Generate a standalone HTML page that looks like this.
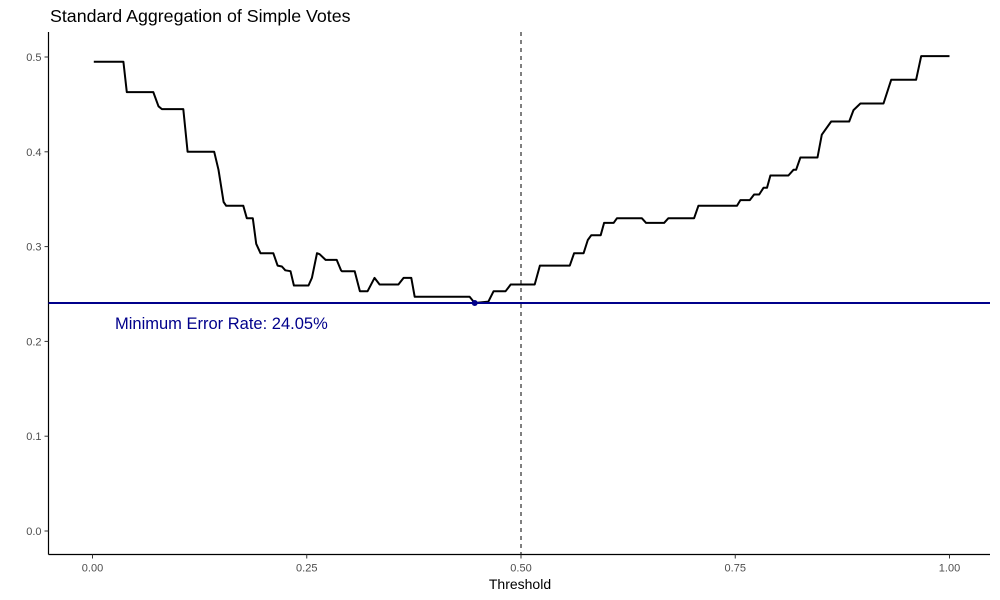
<!DOCTYPE html>
<html><head><meta charset="utf-8"><style>
html,body{margin:0;padding:0;background:#fff;}
svg{display:block;font-family:"Liberation Sans",Arial,sans-serif;}
</style></head><body>
<svg id="chart" width="1000" height="600" viewBox="0 0 1000 600" xmlns="http://www.w3.org/2000/svg">
<text x="50" y="22" font-size="17.8" fill="#000">Standard Aggregation of Simple Votes</text>
<g id="axes"></g>
<g id="marks"></g>
<text x="520" y="589" font-size="14" text-anchor="middle" fill="#000">Threshold</text>
</svg>
<script>
const thresholds = [0.0015,0.036,0.040,0.071,0.077,0.081,0.106,0.111,0.142,0.147,0.153,0.156,0.176,0.180,0.187,0.191,0.196,0.211,0.216,0.221,0.225,0.231,0.235,0.252,0.256,0.262,0.265,0.272,0.285,0.290,0.291,0.306,0.312,0.321,0.329,0.335,0.357,0.363,0.372,0.376,0.440,0.446,0.462,0.468,0.482,0.488,0.516,0.522,0.557,0.562,0.573,0.578,0.582,0.593,0.597,0.608,0.612,0.641,0.646,0.667,0.672,0.702,0.707,0.752,0.756,0.767,0.772,0.778,0.783,0.787,0.791,0.812,0.818,0.821,0.826,0.846,0.851,0.862,0.883,0.888,0.896,0.923,0.932,0.961,0.967,1.0];
const errorRates = [0.495,0.495,0.463,0.463,0.448,0.445,0.445,0.400,0.400,0.381,0.347,0.343,0.343,0.330,0.330,0.303,0.293,0.293,0.280,0.279,0.275,0.274,0.259,0.259,0.267,0.293,0.292,0.286,0.286,0.275,0.274,0.274,0.253,0.253,0.267,0.260,0.260,0.267,0.267,0.247,0.247,0.2405,0.242,0.253,0.253,0.260,0.260,0.280,0.280,0.293,0.293,0.307,0.312,0.312,0.325,0.325,0.330,0.330,0.325,0.325,0.330,0.330,0.343,0.343,0.349,0.349,0.355,0.355,0.362,0.362,0.375,0.375,0.381,0.381,0.394,0.394,0.418,0.432,0.432,0.444,0.451,0.451,0.476,0.476,0.501,0.501];
const xTicks = [0, 0.25, 0.5, 0.75, 1.0];
const xTickLabels = ["0.00","0.25","0.50","0.75","1.00"];
const yTicks = [0, 0.1, 0.2, 0.3, 0.4, 0.5];
const yTickLabels = ["0.0","0.1","0.2","0.3","0.4","0.5"];
const minRate = 0.2405;
const minThreshold = 0.446;
const cutoff = 0.5;

const NS = "http://www.w3.org/2000/svg";
const L = 48.5, R = 990, T = 32, B = 554.5;
const xs = v => 92.5 + v * 857;
const ys = v => 531 - v * 948;
function mk(tag, attrs, parent){const e=document.createElementNS(NS,tag);for(const k in attrs)e.setAttribute(k,attrs[k]);parent.appendChild(e);return e;}
const axes = document.getElementById('axes'), marks = document.getElementById('marks');

let yl = mk('line',{x1:L,y1:T,x2:L,y2:B,stroke:'#000','stroke-width':1.2},axes);


let xl = mk('line',{x1:L,y1:B,x2:R,y2:B,stroke:'#000','stroke-width':1.2},axes);



yTicks.forEach((v,i)=>{
  const y = ys(v);
  const t = mk('line',{x1:L-4,y1:y,x2:L,y2:y,stroke:'#333','stroke-width':1},axes);
  
  
  const tx = mk('text',{x:L-7,y:y+4,'font-size':11,'text-anchor':'end',fill:'#4d4d4d'},axes);
  tx.textContent = yTickLabels[i];
  
  
});
xTicks.forEach((v,i)=>{
  const x = xs(v);
  const t = mk('line',{x1:x,y1:B,x2:x,y2:B+4,stroke:'#333','stroke-width':1},axes);
  
  
  const tx = mk('text',{x:x,y:B+17,'font-size':11,'text-anchor':'middle',fill:'#4d4d4d'},axes);
  tx.textContent = xTickLabels[i];
  
  
});

const vline = mk('line',{x1:xs(cutoff),y1:T,x2:xs(cutoff),y2:B,stroke:'#000','stroke-width':1,'stroke-dasharray':'4,4'},marks);



const pts = thresholds.map((t,i)=>xs(t).toFixed(1)+','+ys(errorRates[i]).toFixed(1)).join(' ');
const line = mk('polyline',{points:pts,fill:'none',stroke:'#000','stroke-width':2,'stroke-linejoin':'round'},marks);



const hline = mk('line',{x1:L,y1:ys(minRate),x2:R,y2:ys(minRate),stroke:'#00008B','stroke-width':2},marks);



const dot = mk('circle',{cx:xs(minThreshold),cy:ys(minRate),r:3,fill:'#00008B'},marks);



const lbl = mk('text',{x:115,y:ys(minRate)+26,'font-size':16.5,fill:'#00008B'},marks);
lbl.textContent = 'Minimum Error Rate: ' + (minRate*100).toFixed(2) + '%';


</script>
</body></html>
